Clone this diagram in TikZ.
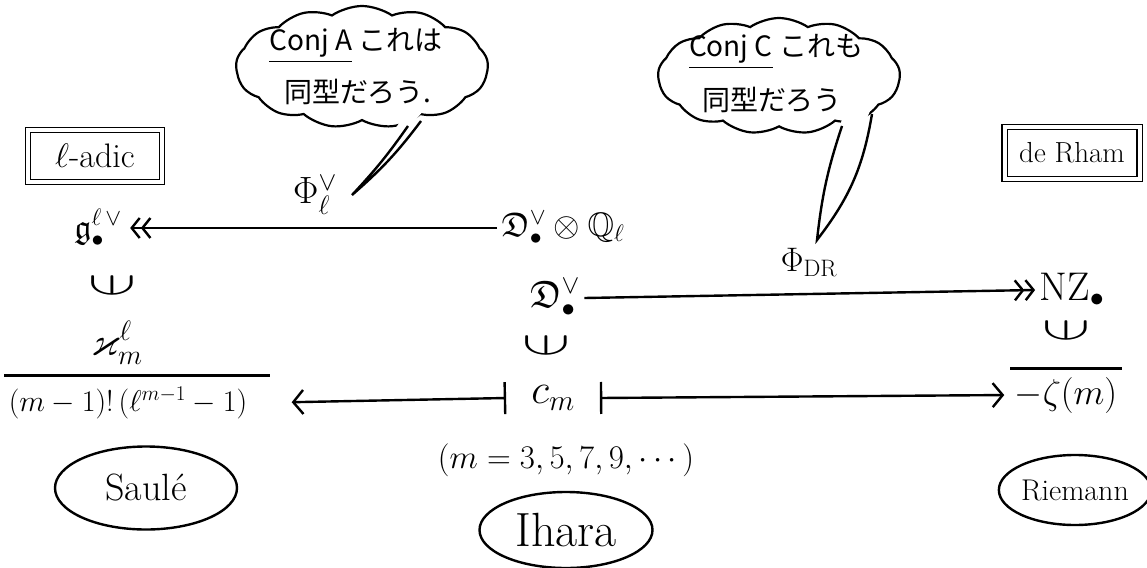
\RequirePackage{fix-cm}
\documentclass[tikz,border=0pt]{standalone}
\usepackage{amsmath,amssymb}
\usepackage{fontspec}
\usepackage{graphicx}
\newfontfamily\jpfont{Noto Sans CJK JP}
\usetikzlibrary{positioning,shapes.symbols,shapes.geometric,arrows.meta}
\newcommand{\downni}{\rotatebox[origin=c]{90}{\scalebox{1.15}[2.1]{$\in$}}}

\begin{document}
\begin{tikzpicture}[x=1pt,y=-1pt,line width=2.4pt,
  fsz/.style={font=\fontsize{#1}{#1}\selectfont},
  every node/.style={fsz=34},
  bubble/.style={cloud,draw,cloud puffs=13,cloud puff arc=70,cloud ignores aspect,line width=2.2pt},
  jp/.style={font=\fontsize{28}{28}\selectfont\jpfont},
  frame/.style={draw,double,double distance=4pt,line width=1.3pt,minimum height=52pt},
  who/.style={ellipse,draw,line width=2.4pt,inner sep=0pt},
  surj/.style={-{Straight Barb[length=8pt,width=20pt]Straight Barb[length=8pt,width=20pt]}},
  mapsto/.style={{Bar[width=32pt]}-{Straight Barb[length=10pt,width=24pt]}}]
\useasboundingbox (0,0) rectangle (1147,567);
\node[bubble,minimum width=252pt,minimum height=122pt] (bubA) at (362,67) {};
\node[bubble,minimum width=242pt,minimum height=116pt] (bubC) at (779,76) {};
\node[jp] (conjA) at (356,46) {\underline{Conj A}\ これは};
\node[jp] (kataA) at (358,92) {同型だろう.};
\node[jp] (conjC) at (776,52) {\underline{Conj C}\ これも};
\node[jp] (kataC) at (772,100) {同型だろう};
\coordinate (tipA) at (352,195);
\coordinate (tipC) at (817,240);
\fill[white] (405,114) -- (tipA) -- (424,110) -- cycle;
\draw (408,126) to[bend left=4] (tipA) to[bend right=6] (421,121);
\fill[white] (842,118) -- (tipC) -- (872,106) -- cycle;
\draw (842,126) to[bend right=6] (tipC) to[bend right=14] (872,114);
\node[frame,minimum width=134pt] (ladic) at (95,156) {$\ell$-adic};
\node[frame,minimum width=135pt,fsz=29] (dR) at (1072,153) {de Rham};
\node (gl) at (98,228) {$\mathfrak{g}^{\ell\,\vee}_{\bullet}$};
\node (dq) at (563,228) {$\mathfrak{D}^{\vee}_{\bullet}\otimes\mathbb{Q}_\ell$};
\node[fsz=38] (dv) at (555,298) {$\mathfrak{D}^{\vee}_{\bullet}$};
\node[fsz=40] (nz) at (1072,290) {$\mathrm{NZ}_{\bullet}$};
\node[fsz=38] (phiL) at (315,195) {$\Phi_{\ell}^{\vee}$};
\node (phiDR) at (809,263) {$\Phi_{\mathrm{DR}}$};
\draw[surj,shorten >=4pt] (dq.west) -- (gl.east);
\draw[surj] (dv.east) -- (nz.west);
\node (inL) at (112,288) {\downni};
\node (inM) at (546,348) {\downni};
\node (inR) at (1066,333) {\downni};
\node[fsz=40] (kap) at (117,343) {$\varkappa^{\ell}_{m}$};
\node[fsz=30] (den) at (128,403) {$(m-1)!\,(\ell^{m-1}-1)$};
\draw ([yshift=7pt]den.north west) -- ([xshift=18pt,yshift=7pt]den.north east);
\node[fsz=42,inner xsep=24pt] (cm) at (553,398) {$c_m$};
\node[fsz=36] (zeta) at (1066,395) {$-\zeta(m)$};
\draw ([yshift=4pt]zeta.north west) -- ([yshift=4pt]zeta.north east);
\draw[mapsto,shorten >=40pt] (cm.west) -- (den.east);
\draw[mapsto,shorten >=6pt] (cm.east) -- (zeta.west);
\node[fsz=33] (range) at (566,460) {$(m=3,5,7,9,\cdots)$};
\node[who,minimum width=182pt,minimum height=83pt,fsz=38] (saule) at (146,488) {Saulé};
\node[who,minimum width=173pt,minimum height=76pt,fsz=48] (ihara) at (566,530) {Ihara};
\node[who,minimum width=140pt,minimum height=70pt,fsz=30] (riem) at (1075,490) {Riemann};
\end{tikzpicture}
\end{document}
